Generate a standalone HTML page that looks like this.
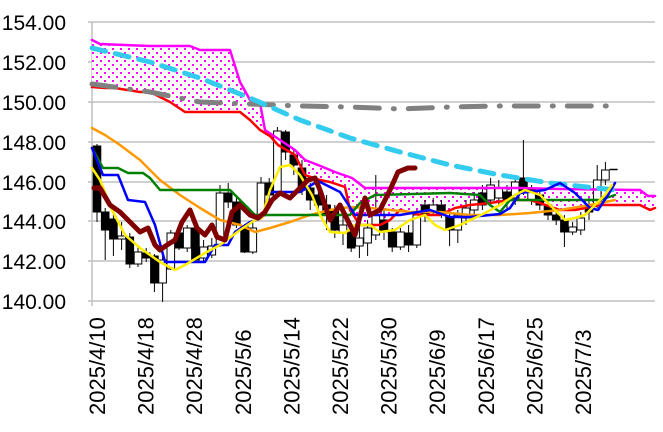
<!DOCTYPE html>
<html><head><meta charset="utf-8"><style>
html,body{margin:0;padding:0;background:#fff;width:663px;height:432px;overflow:hidden}
svg{display:block;font-family:"Liberation Sans",sans-serif}
</style></head><body>
<svg id="s" width="663" height="432" xmlns="http://www.w3.org/2000/svg">
<defs>
<pattern id="dots" width="8" height="8" patternUnits="userSpaceOnUse">
<rect width="8" height="8" fill="#fff"/>
<rect x="0" y="0" width="2" height="2" fill="#ff00ff"/>
<rect x="4" y="4" width="2" height="2" fill="#ff00ff"/>
</pattern>
</defs>
<g id="grid"></g>
<g id="cloud"></g>
<g id="cand"></g>
<g id="lines"></g>
<g id="labels" font-size="21" fill="#000"></g>
</svg>
<script>
var NS="http://www.w3.org/2000/svg";
function el(p,t,a,txt){var e=document.createElementNS(NS,t);for(var k in a)e.setAttribute(k,a[k]);if(txt!==undefined)e.textContent=txt;document.getElementById(p).appendChild(e);return e;}
var ys=[22,62,102,142,182,221,261,301],lb=["154.00","152.00","150.00","148.00","146.00","144.00","142.00","140.00"];
for(var i=0;i<ys.length;i++){el("grid","line",{x1:88,x2:655,y1:ys[i],y2:ys[i],stroke:"#c0c0c0","stroke-width":1.5});el("labels","text",{x:66,y:ys[i]+8,"text-anchor":"end"},lb[i]);}
el("grid","line",{x1:92,x2:92,y1:22,y2:306,stroke:"#c0c0c0","stroke-width":1.5});
var xl=["2025/4/10","2025/4/18","2025/4/28","2025/5/6","2025/5/14","2025/5/22","2025/5/30","2025/6/9","2025/6/17","2025/6/25","2025/7/3"];
for(var i=0;i<xl.length;i++){var x=97+i*48.6+8;el("labels","text",{x:0,y:0,transform:"translate("+x+",415) rotate(-90)","font-size":"22"},xl[i]);}
function P(a){return a.map(function(p){return p[0]+","+p[1]}).join(" ");}
var up=[[92,40],[100,44],[150,46],[190,46],[200,50],[230,50],[240,82],[250,100],[260,103],[265,130],[280,140],[295,150],[305,160],[318,165],[335,172],[352,178],[365,188],[400,188],[460,188],[520,188],[560,189],[640,190],[648,196],[655,196]];
var lo=[[92,87],[105,88],[115,88],[140,92],[150,92],[170,102],[185,112],[240,112],[250,120],[260,130],[270,136],[278,145],[295,155],[305,175],[320,180],[330,182],[345,187],[350,210],[360,225],[380,225],[390,220],[400,210],[420,215],[440,215],[455,208],[470,205],[490,203],[510,200],[530,200],[540,203],[560,210],[575,210],[600,205],[640,205],[650,210],[655,208]];
el("cloud","polygon",{points:P(up)+" "+P(lo.slice().reverse()),fill:"url(#dots)"});
var C=[[146,212,144,222,1],[212,230,208,260,1],[219,239,215,256,1],[236,239,222,250,0],[237,264,233,268,1],[252,264,245,267,0],[253,258,248,262,1],[256,283,254,292,1],[260,283,256,302,0],[233,269,230,270,0],[233,248,230,250,1],[228,248,225,252,0],[228,260,226,262,1],[247,258,240,262,0],[246,255,238,258,0],[193,245,185,247,0],[193,202,183,208,1],[202,225,198,228,1],[227,252,224,253,1],[228,252,220,254,0],[183,216,177,218,0],[183,195,178,200,1],[131,195,127,198,0],[132,152,130,160,1],[155,165,150,175,1],[168,190,160,195,1],[188,200,183,210,1],[195,205,190,215,1],[205,215,195,230,1],[210,230,205,238,1],[225,233,215,245,0],[232,248,228,252,1],[238,246,225,258,0],[228,243,220,256,0],[215,235,175,240,0],[220,232,210,240,1],[232,247,228,252,1],[232,247,228,250,0],[233,245,225,252,1],[215,245,210,248,0],[205,215,200,222,1],[205,212,198,216,0],[205,215,200,218,1],[217,230,212,246,1],[215,230,210,243,0],[208,218,200,225,0],[200,210,192,215,0],[193,205,185,210,1],[185,200,178,203,0],[188,198,180,205,0],[192,200,185,210,1],[182,198,176,205,0],[178,193,140,195,1],[190,200,185,205,0],[195,205,190,210,1],[205,215,200,220,1],[215,220,210,225,1],[220,232,215,247,1],[227,232,222,235,0],[218,230,212,235,0],[205,212,198,220,1],[180,205,165,208,0],[170,180,162,185,0],[169,170,169,170,0]];
for(var i=0;i<C.length;i++){var c=C[i],x=97+i*8.2;
el("cand","line",{x1:x,x2:x,y1:c[2],y2:c[3],stroke:"#000","stroke-width":1});
if(i==C.length-1){el("cand","line",{x1:x-4,x2:x+4,y1:169.5,y2:169.5,stroke:"#000","stroke-width":1.5});continue;}
el("cand","rect",{x:x-3.8,y:c[0],width:7.6,height:Math.max(1,c[1]-c[0]),fill:c[4]?"#000":"#fff",stroke:"#000","stroke-width":1});}
function L(pts,col,w,dash){var a={points:P(pts),fill:"none",stroke:col,"stroke-width":w,"stroke-linejoin":"round","stroke-linecap":"round"};if(dash)a["stroke-dasharray"]=dash;el("lines","polyline",a);}
L(up,"#ff00ff",2.5);
L(lo,"#ff0000",2.5);
L([[92,84],[150,92],[200,102],[250,104],[300,106],[350,107],[400,109],[450,107],[500,106],[550,106],[615,106]],"#808080",5,"24 14 1 14");
L([[92,48],[150,62],[200,78],[250,98],[300,120],[350,138],[400,152],[450,165],[500,175],[550,183],[615,190]],"#33ccee",5,"14 10");
L([[92,128],[105,135],[120,145],[140,160],[160,180],[180,195],[200,208],[220,220],[240,225],[255,232],[270,228],[290,222],[310,215],[330,210],[350,207],[370,208],[390,210],[410,212],[440,212],[470,215],[500,215],[530,213],[560,210],[590,205],[615,200]],"#ff9900",2.5);
L([[92,148],[103,168],[118,168],[128,173],[143,173],[150,178],[160,190],[230,190],[238,198],[255,215],[350,215],[360,203],[375,195],[450,193],[480,195],[490,205],[500,212],[510,200],[600,200],[615,195]],"#008000",2.5);
L([[92,148],[103,175],[118,175],[128,200],[145,202],[155,225],[165,262],[205,262],[215,245],[228,245],[235,232],[250,222],[262,218],[270,192],[300,192],[318,181],[340,192],[355,215],[400,215],[430,210],[450,217],[470,217],[500,214],[510,208],[520,193],[545,190],[560,183],[575,193],[590,208],[598,210],[608,195],[615,183]],"#0000ff",2.5);
L([[92,168],[100,180],[112,210],[125,235],[140,248],[160,262],[175,270],[185,265],[205,253],[220,245],[240,230],[255,220],[262,218],[270,190],[280,167],[290,165],[300,175],[312,195],[320,215],[330,232],[345,233],[355,225],[370,225],[380,232],[395,230],[410,220],[425,215],[435,225],[445,230],[460,225],[485,213],[500,205],[515,195],[525,190],[540,195],[555,210],[565,220],[575,218],[585,215],[595,205],[605,195],[612,185]],"#ffee00",2.5);
L([[94,188],[100,188],[110,205],[120,212],[130,222],[140,232],[148,228],[155,245],[160,250],[167,245],[175,240],[182,222],[190,210],[197,228],[205,235],[212,225],[217,237],[225,240],[232,212],[240,205],[250,215],[258,218],[265,212],[272,200],[280,193],[290,198],[300,188],[308,180],[315,178],[320,190],[330,220],[340,205],[355,235],[365,198],[370,215],[380,210],[390,190],[398,172],[408,168],[415,168]],"#800000",5);
</script>
</body></html>
